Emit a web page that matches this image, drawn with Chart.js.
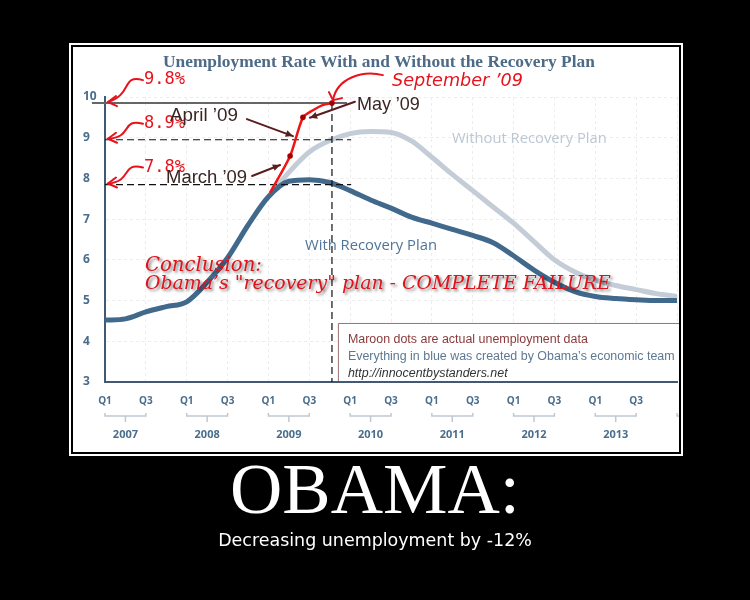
<!DOCTYPE html>
<html>
<head>
<meta charset="utf-8">
<script src="https://cdn.jsdelivr.net/npm/chart.js@4.4.0/dist/chart.umd.min.js"></script>
<style>
  html, body { margin: 0; padding: 0; background: #000; }
  #wrap { width: 750px; height: 600px; }
</style>
</head>
<body>
<div id="wrap"><canvas id="chart" width="750" height="600"></canvas></div>
<script>
// x axis runs in quarters from Q1 2007 (0) to Q1 2014 (28)
const yearLabels = ['2007', '2008', '2009', '2010', '2011', '2012', '2013', '2014'];
const quarterTickLabels = ['Q1', 'Q3'];

// "With Recovery Plan", one value per quarter
const withPlan = [4.52, 4.55, 4.72, 4.85, 4.97, 5.45, 6.05, 6.85, 7.55, 7.93, 7.97, 7.9,
  7.7, 7.47, 7.27, 7.05, 6.9, 6.75, 6.6, 6.42, 6.1, 5.75, 5.45, 5.22, 5.1, 5.05, 5.02, 5.0, 5.0];
// "Without Recovery Plan", starts when the plan starts
const withoutPlan = [null, null, null, null, null, null, null, null, 7.55, 8.15, 8.65, 8.93,
  9.1, 9.15, 9.13, 8.92, 8.52, 8.1, 7.7, 7.3, 6.9, 6.45, 6.0, 5.7, 5.5, 5.37, 5.27, 5.17, 5.1];

// actual (maroon dots) data as drawn on the picture
const actualQuarter = [8.08, 9.06, 9.69, 10.2, 10.65, 11.11];
const actualRate = [7.65, 8.55, 9.5, 9.68, 9.8, 9.85];
const actualDot = [0, 1, 1, 0, 0, 1];

// hand drawn reference lines
const markRates = [9.85, 8.95, 7.85];
const markTexts = ['9.8%', '8.9%', '7.8%'];
const markQuarter = 11.11;

const noteLines = [
  'Maroon dots are actual unemployment data',
  'Everything in blue was created by Obama\u2019s economic team',
  'http://innocentbystanders.net'
];

const axisBlue = '#4a6d8c';

function fitFont(ctx, text, style, family, width) {
  ctx.font = style + ' 20px ' + family;
  const size = 20 * width / ctx.measureText(text).width;
  ctx.font = style + ' ' + size.toFixed(2) + 'px ' + family;
  return size;
}

function arrow(ctx, x1, y1, x2, y2, color, w, head) {
  ctx.strokeStyle = color;
  ctx.fillStyle = color;
  ctx.lineWidth = w;
  ctx.beginPath();
  ctx.moveTo(x1, y1);
  ctx.lineTo(x2, y2);
  ctx.stroke();
  const a = Math.atan2(y2 - y1, x2 - x1);
  ctx.beginPath();
  ctx.moveTo(x2, y2);
  ctx.lineTo(x2 - head * Math.cos(a - 0.45), y2 - head * Math.sin(a - 0.45));
  ctx.lineTo(x2 - head * Math.cos(a + 0.45), y2 - head * Math.sin(a + 0.45));
  ctx.closePath();
  ctx.fill();
}

function redHook(ctx, x1, y1, x2, y2) {
  // wavy hand drawn arrow ending in an open "<" head
  ctx.beginPath();
  ctx.moveTo(x1, y1);
  ctx.bezierCurveTo(x1 - 22, y1 - 6, x1 - 10, y1 + 14, x2, y2);
  ctx.stroke();
  ctx.beginPath();
  ctx.moveTo(x2 + 8, y2 - 6);
  ctx.lineTo(x2, y2);
  ctx.lineTo(x2 + 9, y2 + 4);
  ctx.stroke();
}

const poster = {
  id: 'poster',
  beforeDraw(chart) {
    const ctx = chart.ctx;
    ctx.save();
    ctx.fillStyle = '#000';
    ctx.fillRect(0, 0, chart.width, chart.height);
    ctx.fillStyle = '#fff';
    ctx.fillRect(69, 43, 614, 413);
    ctx.fillStyle = '#000';
    ctx.fillRect(71, 45, 610, 409);
    ctx.fillStyle = '#fff';
    ctx.fillRect(73, 47, 606, 405);
    ctx.restore();
  },
  beforeDatasetsDraw(chart) {
    const ctx = chart.ctx;
    const x = chart.scales.x, y = chart.scales.y;
    ctx.save();
    ctx.beginPath();
    ctx.rect(73, 47, 606, 405);
    ctx.clip();
    // note box
    const bx = x.getPixelForValue(11.4), by = y.getPixelForValue(4.45), bb = y.getPixelForValue(3) - 1;
    ctx.fillStyle = '#fff';
    ctx.fillRect(bx, by, 400, bb - by);
    ctx.strokeStyle = '#9c6f6f';
    ctx.lineWidth = 1;
    ctx.beginPath();
    ctx.moveTo(bx + 0.5, bb);
    ctx.lineTo(bx + 0.5, by + 0.5);
    ctx.lineTo(bx + 400, by + 0.5);
    ctx.stroke();
    const size = fitFont(ctx, noteLines[0], '', '"Liberation Sans"', 240);
    ctx.textBaseline = 'alphabetic';
    ctx.fillStyle = '#8a3a3a';
    ctx.fillText(noteLines[0], bx + 10, by + 20);
    ctx.fillStyle = '#5d7893';
    ctx.fillText(noteLines[1], bx + 10, by + 37);
    ctx.font = 'italic ' + size.toFixed(2) + 'px "Liberation Sans"';
    ctx.fillStyle = '#333';
    ctx.fillText(noteLines[2], bx + 10, by + 54);
    // year brackets under the quarter ticks
    const yb = 416;
    ctx.strokeStyle = '#bfc8d1';
    ctx.lineWidth = 1.5;
    ctx.fillStyle = axisBlue;
    ctx.font = 'bold 11px "Open Sans"';
    ctx.textAlign = 'center';
    yearLabels.forEach((yr, i) => {
      const a = x.getPixelForValue(i * 4), b = x.getPixelForValue(i * 4 + 2), m = x.getPixelForValue(i * 4 + 1);
      ctx.beginPath();
      ctx.moveTo(a, yb - 3); ctx.lineTo(a, yb); ctx.lineTo(b, yb); ctx.lineTo(b, yb - 3);
      ctx.moveTo(m, yb); ctx.lineTo(m, yb + 6);
      ctx.stroke();
      ctx.fillText(yr, m, 438);
    });
    ctx.restore();
  },
  afterDraw(chart) {
    const ctx = chart.ctx;
    const x = chart.scales.x, y = chart.scales.y;
    ctx.save();
    ctx.textAlign = 'left';
    ctx.textBaseline = 'alphabetic';

    // title
    ctx.fillStyle = '#4d6b87';
    fitFont(ctx, 'Unemployment Rate With and Without the Recovery Plan', 'bold', '"Liberation Serif"', 432);
    ctx.fillText('Unemployment Rate With and Without the Recovery Plan', 163, 67);

    // series labels
    ctx.fillStyle = '#bcc7d3';
    fitFont(ctx, 'Without Recovery Plan', '', '"Open Sans"', 155);
    ctx.fillText('Without Recovery Plan', x.getPixelForValue(16.98), y.getPixelForValue(8.87));
    ctx.fillStyle = '#4f7598';
    fitFont(ctx, 'With Recovery Plan', '', '"Open Sans"', 132);
    ctx.fillText('With Recovery Plan', x.getPixelForValue(9.79), y.getPixelForValue(6.25));

    // percent marks pointing at the y axis
    const x0 = x.getPixelForValue(0);
    const pctOffset = [-19, -12, -13];
    ctx.strokeStyle = '#e8121b';
    ctx.fillStyle = '#e8121b';
    ctx.lineWidth = 2;
    ctx.lineCap = 'round';
    markRates.forEach((r, i) => {
      const ly = y.getPixelForValue(r);
      const base = ly + pctOffset[i];
      fitFont(ctx, markTexts[i], '', '"DejaVu Sans Mono"', 41);
      ctx.fillText(markTexts[i], x0 + 39, base);
      redHook(ctx, x0 + 38, base - 4, x0 + 3, ly - 1);
    });

    // September '09
    const sx = x.getPixelForValue(markQuarter), sy = y.getPixelForValue(9.85);
    fitFont(ctx, 'September \u201909', 'italic', '"DejaVu Sans"', 131);
    ctx.fillText('September \u201909', sx + 60, sy - 17);
    ctx.beginPath();
    ctx.moveTo(sx + 51, sy - 28);
    ctx.bezierCurveTo(sx + 30, sy - 33, sx + 5, sy - 25, sx + 1, sy - 3);
    ctx.stroke();
    ctx.beginPath();
    ctx.moveTo(sx - 3, sy - 11);
    ctx.lineTo(sx + 1, sy - 3);
    ctx.lineTo(sx + 10, sy - 5);
    ctx.stroke();

    // month call-outs
    const dark = '#3a2424';
    const callouts = [
      { text: 'April \u201909', q: 9.2, v: 9.04, dx: -46, dy: -17, tx: -77, ty: 2, w: 68 },
      { text: 'May \u201909', q: 10.03, v: 9.49, dx: 45, dy: -16, tx: 2, ty: 8, w: 63 },
      { text: 'March \u201909', q: 8.57, v: 8.33, dx: -28, dy: 11, tx: -86, ty: 7, w: 81 }
    ];
    callouts.forEach(c => {
      const tx = x.getPixelForValue(c.q), ty = y.getPixelForValue(c.v);
      arrow(ctx, tx + c.dx, ty + c.dy, tx, ty, '#5a1e1e', 2, 8);
      ctx.fillStyle = dark;
      fitFont(ctx, c.text, '', '"Liberation Sans"', c.w);
      ctx.fillText(c.text, tx + c.dx + c.tx, ty + c.dy + c.ty);
    });

    // conclusion
    ctx.shadowColor = 'rgba(0,0,0,0.55)';
    ctx.shadowBlur = 3;
    ctx.shadowOffsetX = 2;
    ctx.shadowOffsetY = 2;
    ctx.fillStyle = '#e0121b';
    fitFont(ctx, 'Conclusion:', 'italic', '"DejaVu Serif"', 117);
    ctx.fillText('Conclusion:', 145, 271);
    fitFont(ctx, 'Obama\u2019s "recovery" plan - COMPLETE FAILURE', 'italic', '"DejaVu Serif"', 466);
    ctx.fillText('Obama\u2019s "recovery" plan - COMPLETE FAILURE', 145, 289);
    ctx.shadowColor = 'transparent';

    // poster caption
    ctx.fillStyle = '#fff';
    ctx.textAlign = 'center';
    fitFont(ctx, 'OBAMA:', '', '"Liberation Serif"', 290);
    ctx.fillText('OBAMA:', 375, 513);
    fitFont(ctx, 'Decreasing unemployment by -12%', '', '"DejaVu Sans"', 314);
    ctx.fillText('Decreasing unemployment by -12%', 375, 546);
    ctx.restore();
  }
};

const toPoints = arr => arr.map((v, i) => ({ x: i, y: v }));
const markLeft = [-0.64, 0, 0];
const markRight = [11.85, 12.05, 12.05];

const datasets = [
  {
    label: 'Actual',
    data: actualQuarter.map((q, i) => ({ x: q, y: actualRate[i] })),
    borderColor: '#f01414',
    borderWidth: 2.5,
    pointRadius: actualDot.map(d => d ? 2.8 : 0),
    pointBackgroundColor: '#a50000',
    pointBorderWidth: 0,
    tension: 0.25,
    clip: false,
    order: 0
  },
  {
    label: 'September',
    data: [{ x: markQuarter, y: markRates[0] }, { x: markQuarter, y: 3 }],
    borderColor: '#111',
    borderWidth: 1.2,
    borderDash: [7, 4],
    pointRadius: 0,
    order: 1
  },
  ...markRates.map((r, i) => ({
    label: markTexts[i],
    data: [{ x: markLeft[i], y: r }, { x: markRight[i], y: r }],
    borderColor: i === 0 ? '#666' : '#111',
    borderWidth: i === 0 ? 2 : 1.2,
    borderDash: i === 0 ? [] : [7, 4],
    pointRadius: 0,
    clip: false,
    order: 1
  })),
  {
    label: 'With Recovery Plan',
    data: toPoints(withPlan),
    borderColor: '#41698c',
    borderWidth: 5,
    pointRadius: 0,
    cubicInterpolationMode: 'monotone',
    order: 2
  },
  {
    label: 'Without Recovery Plan',
    data: toPoints(withoutPlan),
    borderColor: '#c4cdd7',
    borderWidth: 5,
    pointRadius: 0,
    cubicInterpolationMode: 'monotone',
    order: 3
  }
];

new Chart(document.getElementById('chart'), {
  type: 'line',
  data: { datasets },
  plugins: [poster],
  options: {
    responsive: false,
    animation: false,
    layout: { padding: { left: 83, right: 73, top: 97, bottom: 150 } },
    plugins: { legend: { display: false }, tooltip: { enabled: false } },
    scales: {
      x: {
        type: 'linear',
        min: 0,
        max: 28,
        afterFit: scale => { scale.height = 68; },
        grid: { color: '#ededed', drawTicks: false },
        border: { display: true, color: '#3f5a72', width: 2, dash: [3, 3] },
        ticks: {
          stepSize: 2,
          autoSkip: false,
          maxRotation: 0,
          padding: 13,
          color: axisBlue,
          font: { family: '"Open Sans"', weight: 'bold', size: 10 },
          callback: v => (v >= 28 ? '' : quarterTickLabels[(v / 2) % 2])
        }
      },
      y: {
        min: 3,
        max: 10,
        afterFit: scale => { scale.width = 22; },
        grid: { color: '#ededed', drawTicks: false },
        border: { display: true, color: '#3f5a72', width: 2, dash: [3, 3] },
        ticks: {
          stepSize: 1,
          crossAlign: 'far',
          color: axisBlue,
          font: { family: '"Open Sans"', weight: 'bold', size: 12 }
        }
      }
    }
  }
});
</script>
</body>
</html>
